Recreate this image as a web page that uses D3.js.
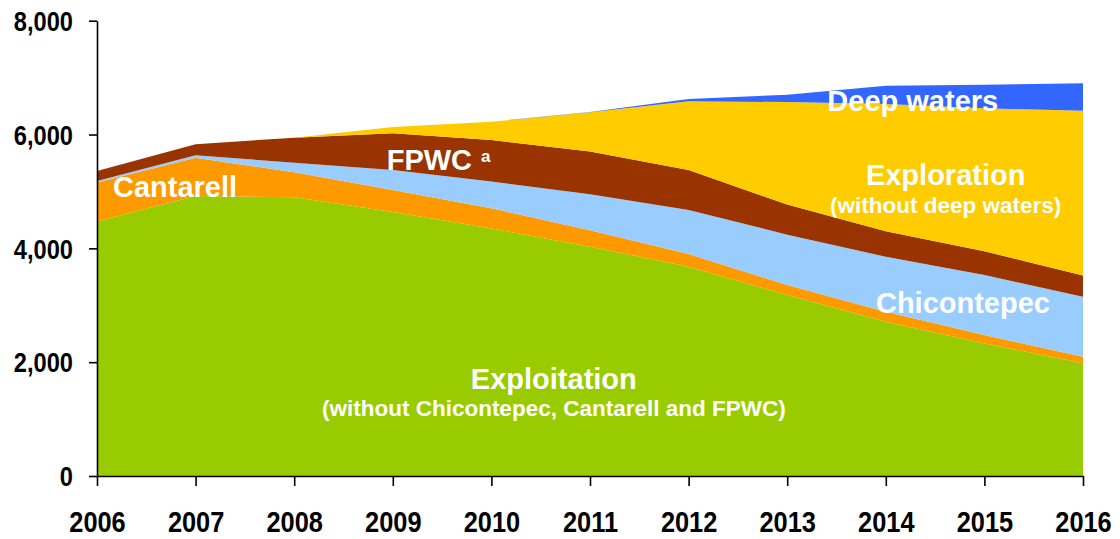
<!DOCTYPE html>
<html>
<head>
<meta charset="utf-8">
<script src="https://cdn.jsdelivr.net/npm/d3@7"></script>
<style>
  html, body { margin: 0; padding: 0; background: #fff; }
  svg { display: block; }
  .axis text { font-family: "Liberation Sans Narrow", "Arial Narrow", "Liberation Sans", Arial, sans-serif; font-weight: bold; fill: #000; }
  .lbl { font-family: "Liberation Sans", Arial, sans-serif; font-weight: bold; fill: #fff; }
</style>
</head>
<body>
<svg id="chart" width="1120" height="539"></svg>
<script>
// ---- Data ----
const years = [2006, 2007, 2008, 2009, 2010, 2011, 2012, 2013, 2014, 2015, 2016];
const exploitation = [4470, 4920, 4900, 4640, 4350, 4030, 3675, 3180, 2710, 2330, 1980];
const cantarell    = [685, 673, 436, 385, 355, 290, 225, 176, 176, 147, 117];
const chicontepec  = [30, 42, 170, 352, 470, 630, 775, 884, 967, 1054, 1054];
const fpwc         = [175, 194, 439, 645, 730, 750, 700, 530, 446, 418, 374];
const exploration  = [0, 0, 0, 110, 320, 690, 1210, 1800, 2237, 2511, 2894];
const deepWaters   = [0, 0, 0, 0, 0, 5, 40, 130, 323, 415, 481];
const yTicks = [0, 2000, 4000, 6000, 8000];
const seriesKeys = ["Exploitation", "Cantarell", "Chicontepec", "FPWC", "Exploration", "Deep waters"];
const seriesColors = ["#99CC00", "#FF9900", "#99CCFF", "#993300", "#FFCC00", "#3366FF"];

// ---- Build table ----
const seriesArrays = [exploitation, cantarell, chicontepec, fpwc, exploration, deepWaters];
const table = years.map((yr, i) => {
  const row = { year: yr };
  seriesKeys.forEach((k, j) => row[k] = seriesArrays[j][i]);
  return row;
});

const svg = d3.select("#chart");
const x = d3.scaleLinear().domain([2006, 2016]).range([97, 1083]);
const y = d3.scaleLinear().domain([0, 8000]).range([476, 20.7]);

const stacked = d3.stack().keys(seriesKeys)(table);
const area = d3.area()
  .x(d => x(d.data.year))
  .y0(d => y(d[0]))
  .y1(d => y(d[1]));

svg.append("g").selectAll("path")
  .data(stacked)
  .join("path")
  .attr("d", area)
  .attr("fill", (d, i) => seriesColors[i]);

// ---- Axes ----
const yAxis = svg.append("g").attr("class", "axis")
  .attr("transform", `translate(${x(2006)},0)`)
  .call(d3.axisLeft(y).tickValues(yTicks).tickFormat(d3.format(","))
    .tickSize(8).tickSizeOuter(0).tickPadding(16));
const xAxis = svg.append("g").attr("class", "axis")
  .attr("transform", `translate(0,${y(0)})`)
  .call(d3.axisBottom(x).tickValues(years).tickFormat(d3.format("d"))
    .tickSize(10).tickSizeOuter(0).tickPadding(25));
svg.selectAll(".axis path, .axis line").attr("stroke", "#000").attr("stroke-width", 1.6);
yAxis.selectAll("text").style("font-size", "27px").attr("dy", "0.36em");
xAxis.selectAll("text").style("font-size", "29px");

// condense axis labels (narrow bold look)
svg.selectAll(".axis text").each(function () {
  const w = this.getComputedTextLength();
  d3.select(this).attr("textLength", w * 0.875).attr("lengthAdjust", "spacingAndGlyphs");
});

// ---- Labels ----
function label(txt, xv, yv, size, anchor) {
  svg.append("text").attr("class", "lbl")
    .attr("x", x(xv)).attr("y", y(yv))
    .attr("text-anchor", anchor)
    .style("font-size", size + "px")
    .text(txt);
}
label("Cantarell", 2006.162, 4908, 29, "start");
label("FPWC", 2008.938, 5377, 29, "start");
label("a", 2009.894, 5517, 17, "start");
label("Deep waters", 2013.407, 6419, 29, "start");
label("Exploration", 2014.607, 5113, 29, "middle");
label("(without deep waters)", 2014.607, 4621, 22.5, "middle");
label("Chicontepec", 2013.90, 2859, 29, "start");
label("Exploitation", 2010.633, 1523, 29, "middle");
label("(without Chicontepec, Cantarell and FPWC)", 2010.633, 1054, 22.5, "middle");
</script>
</body>
</html>
